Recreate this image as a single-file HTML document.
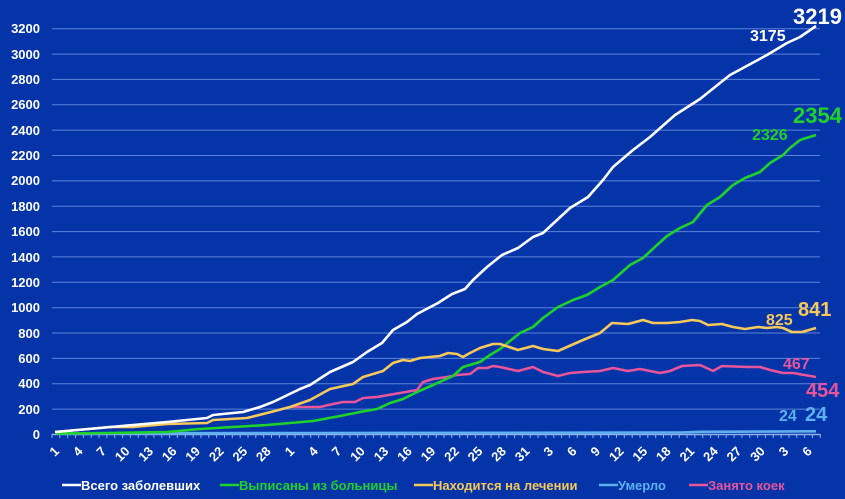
<!DOCTYPE html>
<html><head><meta charset="utf-8"><style>
html,body{margin:0;padding:0;background:#0434a8;}
svg{display:block;font-family:"Liberation Sans",sans-serif;font-weight:bold;}
</style></head><body>
<svg width="845" height="499" viewBox="0 0 845 499" xmlns="http://www.w3.org/2000/svg">
<rect width="845" height="499" fill="#0434a8"/>
<g stroke="#5c84d8" stroke-width="1">
<line x1="52" x2="820" y1="28.7" y2="28.7"/><line x1="52" x2="820" y1="54.1" y2="54.1"/>
<line x1="52" x2="820" y1="79.4" y2="79.4"/><line x1="52" x2="820" y1="104.8" y2="104.8"/>
<line x1="52" x2="820" y1="130.1" y2="130.1"/><line x1="52" x2="820" y1="155.5" y2="155.5"/>
<line x1="52" x2="820" y1="180.9" y2="180.9"/><line x1="52" x2="820" y1="206.2" y2="206.2"/>
<line x1="52" x2="820" y1="231.6" y2="231.6"/><line x1="52" x2="820" y1="256.9" y2="256.9"/>
<line x1="52" x2="820" y1="282.3" y2="282.3"/><line x1="52" x2="820" y1="307.7" y2="307.7"/>
<line x1="52" x2="820" y1="333.0" y2="333.0"/><line x1="52" x2="820" y1="358.4" y2="358.4"/>
<line x1="52" x2="820" y1="383.7" y2="383.7"/><line x1="52" x2="820" y1="409.1" y2="409.1"/>
</g>
<g fill="#fff" font-size="13" text-anchor="end">
<text x="40" y="33">3200</text><text x="40" y="59">3000</text><text x="40" y="84">2800</text><text x="40" y="109">2600</text>
<text x="40" y="135">2400</text><text x="40" y="160">2200</text><text x="40" y="185">2000</text><text x="40" y="211">1800</text>
<text x="40" y="236">1600</text><text x="40" y="262">1400</text><text x="40" y="287">1200</text><text x="40" y="312">1000</text>
<text x="40" y="338">800</text><text x="40" y="363">600</text><text x="40" y="388">400</text><text x="40" y="414">200</text>
<text x="40" y="439">0</text>
</g>
<line x1="52" x2="820" y1="434.5" y2="434.5" stroke="#8fb0e8" stroke-width="1.5"/>
<path stroke="#8fb0e8" stroke-width="1" fill="none" d="M52 434v4M59.8 434v4M67.7 434v4M75.5 434v4M83.4 434v4M91.2 434v4M99 434v4M106.9 434v4M114.7 434v4M122.6 434v4M130.4 434v4M138.2 434v4M146.1 434v4M153.9 434v4M161.8 434v4M169.6 434v4M177.4 434v4M185.3 434v4M193.1 434v4M201 434v4M208.8 434v4M216.6 434v4M224.5 434v4M232.3 434v4M240.2 434v4M248 434v4M255.8 434v4M263.7 434v4M271.5 434v4M279.4 434v4M287.2 434v4M295 434v4M302.9 434v4M310.7 434v4M318.6 434v4M326.4 434v4M334.2 434v4M342.1 434v4M349.9 434v4M357.8 434v4M365.6 434v4M373.4 434v4M381.3 434v4M389.1 434v4M397 434v4M404.8 434v4M412.6 434v4M420.5 434v4M428.3 434v4M436.2 434v4M444 434v4M451.8 434v4M459.7 434v4M467.5 434v4M475.4 434v4M483.2 434v4M491 434v4M498.9 434v4M506.7 434v4M514.6 434v4M522.4 434v4M530.2 434v4M538.1 434v4M545.9 434v4M553.8 434v4M561.6 434v4M569.4 434v4M577.3 434v4M585.1 434v4M593 434v4M600.8 434v4M608.6 434v4M616.5 434v4M624.3 434v4M632.2 434v4M640 434v4M647.8 434v4M655.7 434v4M663.5 434v4M671.4 434v4M679.2 434v4M687 434v4M694.9 434v4M702.7 434v4M710.6 434v4M718.4 434v4M726.2 434v4M734.1 434v4M741.9 434v4M749.8 434v4M757.6 434v4M765.4 434v4M773.3 434v4M781.1 434v4M789 434v4M796.8 434v4M804.6 434v4M812.5 434v4M820.3 434v4"/>
<g fill="#fff" font-size="13" text-anchor="end">
<text transform="translate(60,452) rotate(-45)">1</text>
<text transform="translate(83.5,452) rotate(-45)">4</text>
<text transform="translate(107,452) rotate(-45)">7</text>
<text transform="translate(130.5,452) rotate(-45)">10</text>
<text transform="translate(154,452) rotate(-45)">13</text>
<text transform="translate(177.5,452) rotate(-45)">16</text>
<text transform="translate(201,452) rotate(-45)">19</text>
<text transform="translate(224.6,452) rotate(-45)">22</text>
<text transform="translate(248.1,452) rotate(-45)">25</text>
<text transform="translate(271.6,452) rotate(-45)">28</text>
<text transform="translate(295.2,452) rotate(-45)">1</text>
<text transform="translate(318.7,452) rotate(-45)">4</text>
<text transform="translate(342.2,452) rotate(-45)">7</text>
<text transform="translate(365.8,452) rotate(-45)">10</text>
<text transform="translate(389.3,452) rotate(-45)">13</text>
<text transform="translate(412.8,452) rotate(-45)">16</text>
<text transform="translate(436.3,452) rotate(-45)">19</text>
<text transform="translate(459.9,452) rotate(-45)">22</text>
<text transform="translate(483.4,452) rotate(-45)">25</text>
<text transform="translate(506.9,452) rotate(-45)">28</text>
<text transform="translate(530.5,452) rotate(-45)">31</text>
<text transform="translate(554,452) rotate(-45)">3</text>
<text transform="translate(577.5,452) rotate(-45)">6</text>
<text transform="translate(601,452) rotate(-45)">9</text>
<text transform="translate(624.6,452) rotate(-45)">12</text>
<text transform="translate(648.1,452) rotate(-45)">15</text>
<text transform="translate(671.6,452) rotate(-45)">18</text>
<text transform="translate(695.2,452) rotate(-45)">21</text>
<text transform="translate(718.7,452) rotate(-45)">24</text>
<text transform="translate(742.2,452) rotate(-45)">27</text>
<text transform="translate(765.8,452) rotate(-45)">30</text>
<text transform="translate(789.3,452) rotate(-45)">3</text>
<text transform="translate(812.8,452) rotate(-45)">6</text>
</g>
<g fill="none" stroke-width="2.6" stroke-linejoin="round">
<polyline stroke="#5fb0f0" points="56,433.5 300,433 500,432.8 680,432.5 700,431.8 816,431.3"/>
<polyline stroke="#e9559a" points="290,407 320,407 333,404 343,402 355,402 363,398 377,397 400,393 417,390 423,382 433,379 447,377 457,375 470,374 478,368 487,368 493,366 500,367 518,371 533,367 543,372 558,376 570,373 583,372 600,371 613,368 628,371 640,369 660,373 670,371 682,366 700,365 713,371 722,366 747,367 760,367 770,370 783,373 793,373 816,377"/>
<polyline stroke="#1ed22a" points="56,433.5 110,433 167,432 200,429 233,427 267,425 313,421 340,416 360,412 377,409 390,403 403,399 417,392 433,385 453,376 463,367 480,362 490,355 500,349 520,333 533,327 543,318 558,307 573,300 587,295 600,287 613,280 630,265 643,258 657,245 667,236 680,228 693,222 707,205 720,197 733,185 745,178 760,172 770,163 783,155 790,148 800,140 816,135"/>
<polyline stroke="#f7c95a" points="55,432 110,427 133,427 167,424 207,423 213,420 247,418 267,413 290,407 310,400 330,389 353,384 363,377 383,371 393,363 403,360 410,361 420,358 440,356 448,353 457,354 463,357 470,353 480,348 493,344 500,344 518,350 533,346 543,349 558,351 567,347 583,340 600,333 612,323 628,324 643,320 653,323 667,323 680,322 692,320 700,321 708,325 722,324 733,327 745,329 758,327 767,328 777,327 783,328 792,332 802,332 816,328"/>
<polyline stroke="#ffffff" points="55,432 100,428 133,425 167,422 207,418 213,415 243,412 260,407 273,402 300,389 310,385 330,372 353,362 367,352 382,343 393,330 407,322 417,314 438,303 452,294 465,289 473,280 487,267 502,255 518,248 533,237 543,233 570,208 588,197 603,180 613,167 633,150 650,137 675,115 700,99 730,75 743,68 767,55 787,43 800,37 816,26"/>
</g>
<text x="793" y="24" fill="#fff" font-size="22">3219</text>
<text x="750" y="41" fill="#fff" font-size="16">3175</text>
<text x="793" y="123" fill="#1ed22a" font-size="22">2354</text>
<text x="752" y="140" fill="#1ed22a" font-size="16">2326</text>
<text x="798" y="316" fill="#f7c95a" font-size="20">841</text>
<text x="766" y="325" fill="#f7c95a" font-size="16">825</text>
<text x="783" y="369" fill="#e9559a" font-size="16">467</text>
<text x="806" y="397" fill="#e9559a" font-size="20">454</text>
<text x="779" y="421" fill="#5fb0f0" font-size="16">24</text>
<text x="805" y="421" fill="#5fb0f0" font-size="20">24</text>
<g font-size="13" stroke-width="2.6">
<line x1="62" x2="81" y1="485" y2="485" stroke="#fff"/><text x="81" y="490" fill="#fff">Всего заболевших</text>
<line x1="220" x2="239" y1="485" y2="485" stroke="#1ed22a"/><text x="239" y="490" fill="#1ed22a">Выписаны из больницы</text>
<line x1="414" x2="433" y1="485" y2="485" stroke="#f7c95a"/><text x="433" y="490" fill="#f7c95a">Находится на лечении</text>
<line x1="599" x2="618" y1="485" y2="485" stroke="#5fb0f0"/><text x="618" y="490" fill="#5fb0f0">Умерло</text>
<line x1="689" x2="708" y1="485" y2="485" stroke="#e9559a"/><text x="708" y="490" fill="#e9559a">Занято коек</text>
</g>
</svg>
</body></html>
